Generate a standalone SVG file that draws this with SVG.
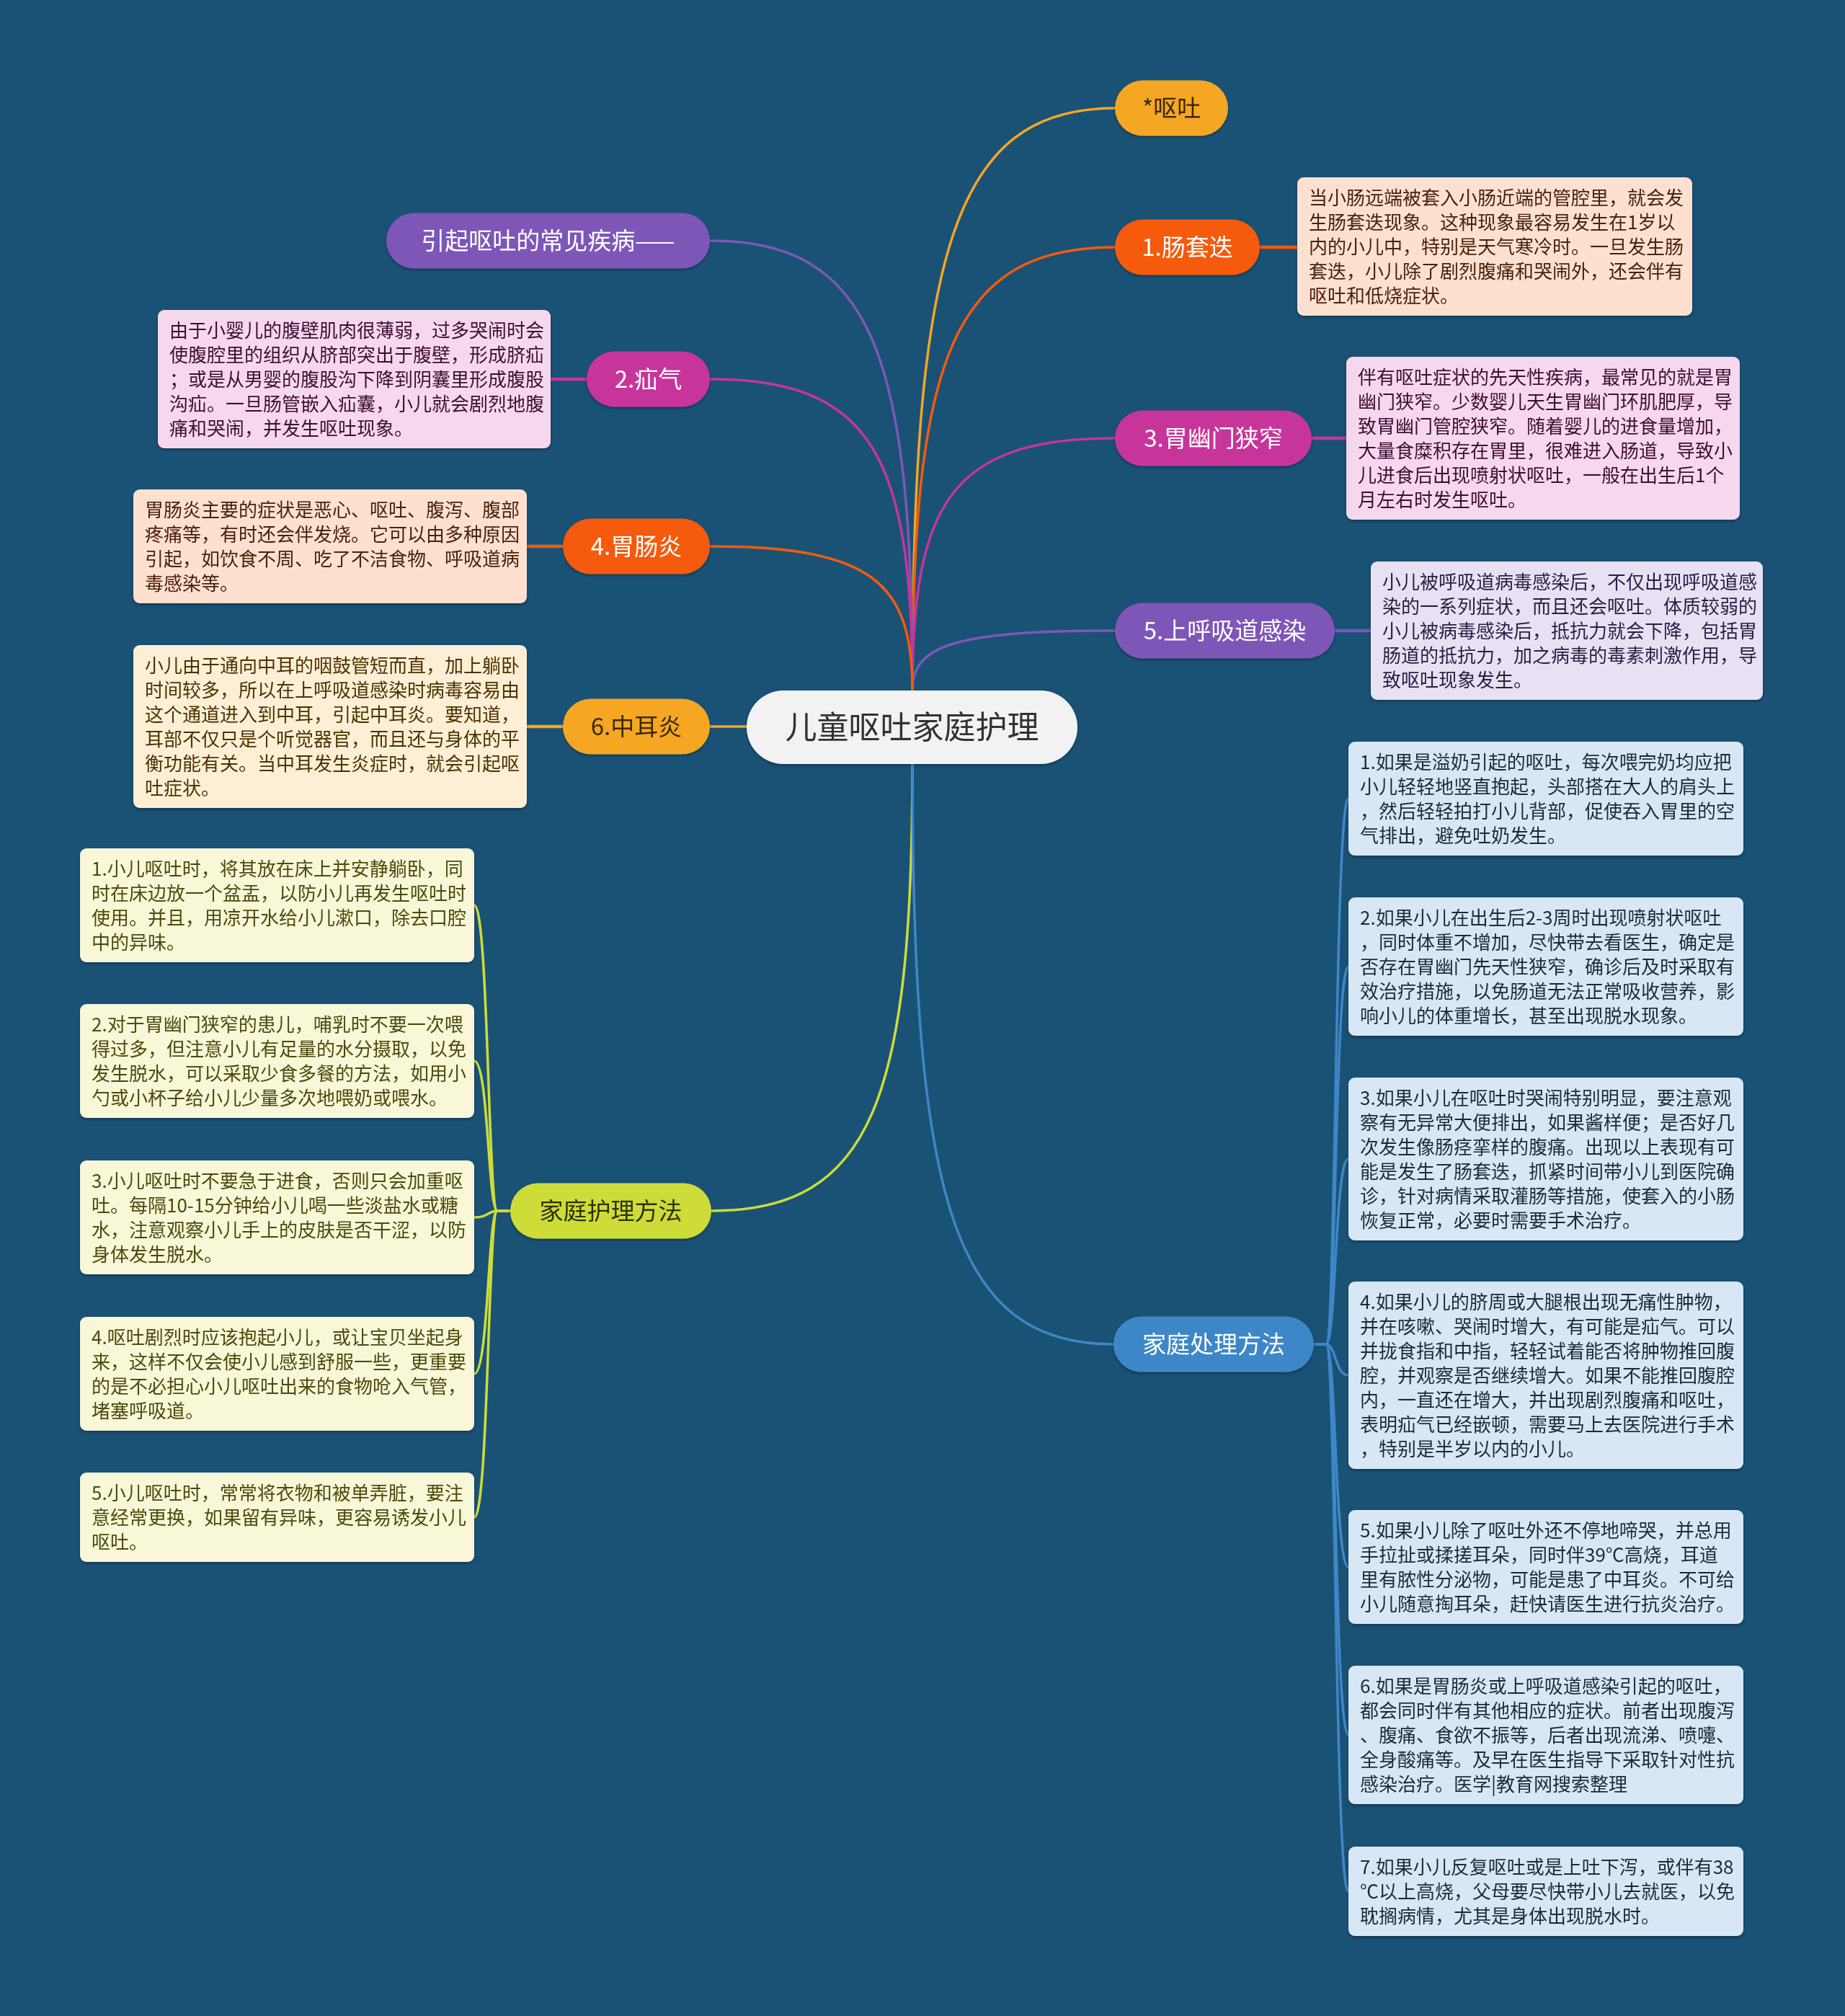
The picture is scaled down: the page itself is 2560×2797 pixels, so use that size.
<svg xmlns="http://www.w3.org/2000/svg" width="2560" height="2797" viewBox="0 0 2560 2797">
<defs>
<filter id="sh" x="-10%" y="-20%" width="120%" height="150%">
<feDropShadow dx="0" dy="2" stdDeviation="2" flood-color="#000" flood-opacity="0.35"/>
</filter>
</defs>
<style>
text{font-family:"Noto Sans CJK SC","Noto Sans",sans-serif}
.m{font-size:33px;text-anchor:middle}
.t{font-size:26px}
.w{fill:#ffffff}
.d{fill:#3a2a05}
.c{fill:none;stroke-width:3.5;stroke-linecap:round}
.s{fill:none;stroke-width:4.5}
.node{filter:url(#sh)}
.box{filter:url(#sh)}
.or{fill:#f55a0e}.ors{stroke:#f55a0e}
.yl{fill:#f5a623}.yls{stroke:#f5a623}
.pu{fill:#7e57b8}.pus{stroke:#7e57b8}
.mg{fill:#c7359b}.mgs{stroke:#c7359b}
.gr{fill:#cddc39}.grs{stroke:#cddc39}
.bl{fill:#3e87c8}.bls{stroke:#3e87c8}
.bpeach{fill:#fde0d0}.tpeach{fill:#4a200c}
.bpink{fill:#f6d8ee}.tpink{fill:#3e0f30}
.blav{fill:#e7e1f3}.tlav{fill:#2a1d45}
.bcream{fill:#fdefd6}.tcream{fill:#4d3300}
.bcare{fill:#f8f7d8}.tcare{fill:#4b4b0c}
.btreat{fill:#d8e7f5}.ttreat{fill:#1e2b38}
</style>
<rect x="0" y="0" width="2560" height="2797" fill="#1a5276"/>

<g id="connectors">
<path class="c yls" d="M1266 958 C1266 352 1322 150 1547 150"/>
<path class="c ors" d="M1266 958 C1266 497 1322 343 1547 343"/>
<path class="c mgs" d="M1266 958 C1266 696 1322 608 1547 608"/>
<path class="c pus" d="M1266 958 C1266 896 1322 875 1547 875"/>
<path class="c pus" d="M1266 958 C1266 490 1210 334 985 334"/>
<path class="c mgs" d="M1266 958 C1266 634 1210 526 985 526"/>
<path class="c ors" d="M1266 958 C1266 808 1210 758 985 758"/>
<path class="c yls" d="M1266 1008 L985 1008"/>
<path class="c grs" d="M1266 1060 C1266 1525 1210 1680 987 1680"/>
<path class="c bls" d="M1266 1060 C1266 1664 1322 1865 1545 1865"/>
<path class="s ors" d="M1748 343 L1800 343"/>
<path class="s mgs" d="M1820 608 L1868 608"/>
<path class="s pus" d="M1852 875 L1902 875"/>
<path class="s mgs" d="M814 526 L764 526"/>
<path class="s ors" d="M781 758 L731 758"/>
<path class="s yls" d="M781 1008 L731 1008"/>
<path class="c grs" d="M708 1680 L690 1680 C677 1680 678 1256 658 1256"/>
<path class="c grs" d="M708 1680 L690 1680 C677 1680 678 1472 658 1472"/>
<path class="c grs" d="M708 1680 L690 1680 C677 1680 678 1689 658 1689"/>
<path class="c grs" d="M708 1680 L690 1680 C677 1680 678 1906 658 1906"/>
<path class="c grs" d="M708 1680 L690 1680 C677 1680 678 2105 658 2105"/>
<path class="c bls" d="M1823 1865 L1840 1865 C1854 1865 1852 1108 1871 1108"/>
<path class="c bls" d="M1823 1865 L1840 1865 C1854 1865 1852 1341 1871 1341"/>
<path class="c bls" d="M1823 1865 L1840 1865 C1854 1865 1852 1608 1871 1608"/>
<path class="c bls" d="M1823 1865 L1840 1865 C1854 1865 1852 1908 1871 1908"/>
<path class="c bls" d="M1823 1865 L1840 1865 C1854 1865 1852 2174 1871 2174"/>
<path class="c bls" d="M1823 1865 L1840 1865 C1854 1865 1852 2407 1871 2407"/>
<path class="c bls" d="M1823 1865 L1840 1865 C1854 1865 1852 2624 1871 2624"/>
</g>

<g id="center" class="node">
<rect x="1036" y="958" width="459" height="102" rx="51" fill="#f2f2f2"/>
<text x="1265.5" y="1025" style="font-size:44px;text-anchor:middle" fill="#333333">儿童呕吐家庭护理</text>
</g>

<g id="n-vomit" class="node"><rect class="yl" x="1547" y="111.5" width="157" height="77" rx="38.5"/><text class="m d" x="1625.5" y="162">*呕吐</text></g>
<g id="n-1" class="node"><rect class="or" x="1547" y="304.5" width="201" height="77" rx="38.5"/><text class="m w" x="1647.5" y="355">1.肠套迭</text></g>
<g id="n-3" class="node"><rect class="mg" x="1547" y="569.5" width="273" height="77" rx="38.5"/><text class="m w" x="1683.5" y="620">3.胃幽门狭窄</text></g>
<g id="n-5" class="node"><rect class="pu" x="1547" y="836.5" width="305" height="77" rx="38.5"/><text class="m w" x="1699.5" y="887">5.上呼吸道感染</text></g>
<g id="n-common" class="node"><rect class="pu" x="536" y="295.5" width="449" height="77" rx="38.5"/><text class="m w" x="760.5" y="346">引起呕吐的常见疾病——</text></g>
<g id="n-2" class="node"><rect class="mg" x="814" y="487.5" width="171" height="77" rx="38.5"/><text class="m w" x="899.5" y="538">2.疝气</text></g>
<g id="n-4" class="node"><rect class="or" x="781" y="719.5" width="204" height="77" rx="38.5"/><text class="m w" x="883" y="770">4.胃肠炎</text></g>
<g id="n-6" class="node"><rect class="yl" x="781" y="969.5" width="204" height="77" rx="38.5"/><text class="m d" x="883" y="1020">6.中耳炎</text></g>
<g id="n-care" class="node"><rect class="gr" x="708" y="1641.5" width="279" height="77" rx="38.5"/><text class="m" x="847.5" y="1692" fill="#2d3000">家庭护理方法</text></g>
<g id="n-treat" class="node"><rect class="bl" x="1545" y="1826.5" width="278" height="77" rx="38.5"/><text class="m w" x="1684" y="1877">家庭处理方法</text></g>

<g id="desc-1" class="box"><rect class="bpeach" x="1800" y="246" width="548" height="192" rx="9"/>
<text class="t tpeach"><tspan x="1816" y="284">当小肠远端被套入小肠近端的管腔里，就会发</tspan><tspan x="1816" y="318">生肠套迭现象。这种现象最容易发生在1岁以</tspan><tspan x="1816" y="352">内的小儿中，特别是天气寒冷时。一旦发生肠</tspan><tspan x="1816" y="386">套迭，小儿除了剧烈腹痛和哭闹外，还会伴有</tspan><tspan x="1816" y="420">呕吐和低烧症状。</tspan></text></g>

<g id="desc-3" class="box"><rect class="bpink" x="1868" y="495" width="546" height="226" rx="9"/>
<text class="t tpink"><tspan x="1884" y="533">伴有呕吐症状的先天性疾病，最常见的就是胃</tspan><tspan x="1884" y="567">幽门狭窄。少数婴儿天生胃幽门环肌肥厚，导</tspan><tspan x="1884" y="601">致胃幽门管腔狭窄。随着婴儿的进食量增加，</tspan><tspan x="1884" y="635">大量食糜积存在胃里，很难进入肠道，导致小</tspan><tspan x="1884" y="669">儿进食后出现喷射状呕吐，一般在出生后1个</tspan><tspan x="1884" y="703">月左右时发生呕吐。</tspan></text></g>

<g id="desc-5" class="box"><rect class="blav" x="1902" y="779" width="544" height="192" rx="9"/>
<text class="t tlav"><tspan x="1918" y="817">小儿被呼吸道病毒感染后，不仅出现呼吸道感</tspan><tspan x="1918" y="851">染的一系列症状，而且还会呕吐。体质较弱的</tspan><tspan x="1918" y="885">小儿被病毒感染后，抵抗力就会下降，包括胃</tspan><tspan x="1918" y="919">肠道的抵抗力，加之病毒的毒素刺激作用，导</tspan><tspan x="1918" y="953">致呕吐现象发生。</tspan></text></g>

<g id="desc-2" class="box"><rect class="bpink" x="219" y="430" width="545" height="192" rx="9"/>
<text class="t tpink"><tspan x="235" y="468">由于小婴儿的腹壁肌肉很薄弱，过多哭闹时会</tspan><tspan x="235" y="502">使腹腔里的组织从脐部突出于腹壁，形成脐疝</tspan><tspan x="235" y="536">；或是从男婴的腹股沟下降到阴囊里形成腹股</tspan><tspan x="235" y="570">沟疝。一旦肠管嵌入疝囊，小儿就会剧烈地腹</tspan><tspan x="235" y="604">痛和哭闹，并发生呕吐现象。</tspan></text></g>

<g id="desc-4" class="box"><rect class="bpeach" x="185" y="679" width="546" height="158" rx="9"/>
<text class="t tpeach"><tspan x="201" y="717">胃肠炎主要的症状是恶心、呕吐、腹泻、腹部</tspan><tspan x="201" y="751">疼痛等，有时还会伴发烧。它可以由多种原因</tspan><tspan x="201" y="785">引起，如饮食不周、吃了不洁食物、呼吸道病</tspan><tspan x="201" y="819">毒感染等。</tspan></text></g>

<g id="desc-6" class="box"><rect class="bcream" x="185" y="895" width="546" height="226" rx="9"/>
<text class="t tcream"><tspan x="201" y="933">小儿由于通向中耳的咽鼓管短而直，加上躺卧</tspan><tspan x="201" y="967">时间较多，所以在上呼吸道感染时病毒容易由</tspan><tspan x="201" y="1001">这个通道进入到中耳，引起中耳炎。要知道，</tspan><tspan x="201" y="1035">耳部不仅只是个听觉器官，而且还与身体的平</tspan><tspan x="201" y="1069">衡功能有关。当中耳发生炎症时，就会引起呕</tspan><tspan x="201" y="1103">吐症状。</tspan></text></g>

<g id="care-1" class="box"><rect class="bcare" x="111" y="1177" width="547" height="158" rx="9"/>
<text class="t tcare"><tspan x="127" y="1215">1.小儿呕吐时，将其放在床上并安静躺卧，同</tspan><tspan x="127" y="1249">时在床边放一个盆盂，以防小儿再发生呕吐时</tspan><tspan x="127" y="1283">使用。并且，用凉开水给小儿漱口，除去口腔</tspan><tspan x="127" y="1317">中的异味。</tspan></text></g>

<g id="care-2" class="box"><rect class="bcare" x="111" y="1393" width="547" height="158" rx="9"/>
<text class="t tcare"><tspan x="127" y="1431">2.对于胃幽门狭窄的患儿，哺乳时不要一次喂</tspan><tspan x="127" y="1465">得过多，但注意小儿有足量的水分摄取，以免</tspan><tspan x="127" y="1499">发生脱水，可以采取少食多餐的方法，如用小</tspan><tspan x="127" y="1533">勺或小杯子给小儿少量多次地喂奶或喂水。</tspan></text></g>

<g id="care-3" class="box"><rect class="bcare" x="111" y="1610" width="547" height="158" rx="9"/>
<text class="t tcare"><tspan x="127" y="1648">3.小儿呕吐时不要急于进食，否则只会加重呕</tspan><tspan x="127" y="1682">吐。每隔10-15分钟给小儿喝一些淡盐水或糖</tspan><tspan x="127" y="1716">水，注意观察小儿手上的皮肤是否干涩，以防</tspan><tspan x="127" y="1750">身体发生脱水。</tspan></text></g>

<g id="care-4" class="box"><rect class="bcare" x="111" y="1827" width="547" height="158" rx="9"/>
<text class="t tcare"><tspan x="127" y="1865">4.呕吐剧烈时应该抱起小儿，或让宝贝坐起身</tspan><tspan x="127" y="1899">来，这样不仅会使小儿感到舒服一些，更重要</tspan><tspan x="127" y="1933">的是不必担心小儿呕吐出来的食物呛入气管，</tspan><tspan x="127" y="1967">堵塞呼吸道。</tspan></text></g>

<g id="care-5" class="box"><rect class="bcare" x="111" y="2043" width="547" height="124" rx="9"/>
<text class="t tcare"><tspan x="127" y="2081">5.小儿呕吐时，常常将衣物和被单弄脏，要注</tspan><tspan x="127" y="2115">意经常更换，如果留有异味，更容易诱发小儿</tspan><tspan x="127" y="2149">呕吐。</tspan></text></g>

<g id="treat-1" class="box"><rect class="btreat" x="1871" y="1029" width="548" height="158" rx="9"/>
<text class="t ttreat"><tspan x="1887" y="1067">1.如果是溢奶引起的呕吐，每次喂完奶均应把</tspan><tspan x="1887" y="1101">小儿轻轻地竖直抱起，头部搭在大人的肩头上</tspan><tspan x="1887" y="1135">，然后轻轻拍打小儿背部，促使吞入胃里的空</tspan><tspan x="1887" y="1169">气排出，避免吐奶发生。</tspan></text></g>

<g id="treat-2" class="box"><rect class="btreat" x="1871" y="1245" width="548" height="192" rx="9"/>
<text class="t ttreat"><tspan x="1887" y="1283">2.如果小儿在出生后2-3周时出现喷射状呕吐</tspan><tspan x="1887" y="1317">，同时体重不增加，尽快带去看医生，确定是</tspan><tspan x="1887" y="1351">否存在胃幽门先天性狭窄，确诊后及时采取有</tspan><tspan x="1887" y="1385">效治疗措施，以免肠道无法正常吸收营养，影</tspan><tspan x="1887" y="1419">响小儿的体重增长，甚至出现脱水现象。</tspan></text></g>

<g id="treat-3" class="box"><rect class="btreat" x="1871" y="1495" width="548" height="226" rx="9"/>
<text class="t ttreat"><tspan x="1887" y="1533">3.如果小儿在呕吐时哭闹特别明显，要注意观</tspan><tspan x="1887" y="1567">察有无异常大便排出，如果酱样便；是否好几</tspan><tspan x="1887" y="1601">次发生像肠痉挛样的腹痛。出现以上表现有可</tspan><tspan x="1887" y="1635">能是发生了肠套迭，抓紧时间带小儿到医院确</tspan><tspan x="1887" y="1669">诊，针对病情采取灌肠等措施，使套入的小肠</tspan><tspan x="1887" y="1703">恢复正常，必要时需要手术治疗。</tspan></text></g>

<g id="treat-4" class="box"><rect class="btreat" x="1871" y="1778" width="548" height="260" rx="9"/>
<text class="t ttreat"><tspan x="1887" y="1816">4.如果小儿的脐周或大腿根出现无痛性肿物，</tspan><tspan x="1887" y="1850">并在咳嗽、哭闹时增大，有可能是疝气。可以</tspan><tspan x="1887" y="1884">并拢食指和中指，轻轻试着能否将肿物推回腹</tspan><tspan x="1887" y="1918">腔，并观察是否继续增大。如果不能推回腹腔</tspan><tspan x="1887" y="1952">内，一直还在增大，并出现剧烈腹痛和呕吐，</tspan><tspan x="1887" y="1986">表明疝气已经嵌顿，需要马上去医院进行手术</tspan><tspan x="1887" y="2020">，特别是半岁以内的小儿。</tspan></text></g>

<g id="treat-5" class="box"><rect class="btreat" x="1871" y="2095" width="548" height="158" rx="9"/>
<text class="t ttreat"><tspan x="1887" y="2133">5.如果小儿除了呕吐外还不停地啼哭，并总用</tspan><tspan x="1887" y="2167">手拉扯或揉搓耳朵，同时伴39℃高烧，耳道</tspan><tspan x="1887" y="2201">里有脓性分泌物，可能是患了中耳炎。不可给</tspan><tspan x="1887" y="2235">小儿随意掏耳朵，赶快请医生进行抗炎治疗。</tspan></text></g>

<g id="treat-6" class="box"><rect class="btreat" x="1871" y="2311" width="548" height="192" rx="9"/>
<text class="t ttreat"><tspan x="1887" y="2349">6.如果是胃肠炎或上呼吸道感染引起的呕吐，</tspan><tspan x="1887" y="2383">都会同时伴有其他相应的症状。前者出现腹泻</tspan><tspan x="1887" y="2417">、腹痛、食欲不振等，后者出现流涕、喷嚏、</tspan><tspan x="1887" y="2451">全身酸痛等。及早在医生指导下采取针对性抗</tspan><tspan x="1887" y="2485">感染治疗。医学|教育网搜索整理</tspan></text></g>

<g id="treat-7" class="box"><rect class="btreat" x="1871" y="2562" width="548" height="124" rx="9"/>
<text class="t ttreat"><tspan x="1887" y="2600">7.如果小儿反复呕吐或是上吐下泻，或伴有38</tspan><tspan x="1887" y="2634">℃以上高烧，父母要尽快带小儿去就医，以免</tspan><tspan x="1887" y="2668">耽搁病情，尤其是身体出现脱水时。</tspan></text></g>
</svg>
